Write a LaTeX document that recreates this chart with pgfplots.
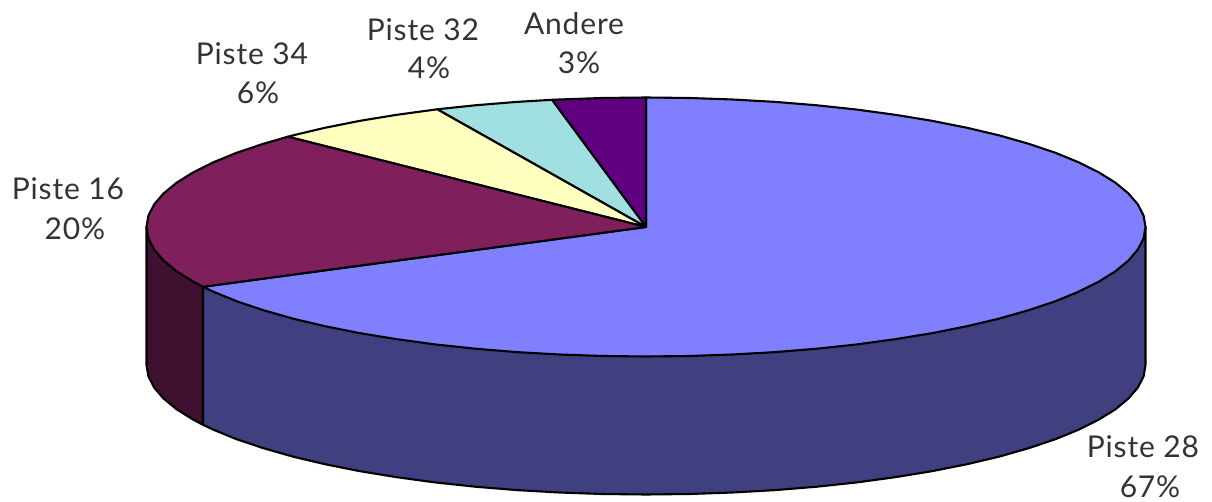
\documentclass[border=0pt]{standalone}
\usepackage{fontspec}
\setmainfont{Lato}[LetterSpace=2.8]
\usepackage{pgfplots}
\pgfplotsset{compat=1.18}
\definecolor{cBlue}{HTML}{8080FF}
\definecolor{cBlueS}{HTML}{404080}
\definecolor{cMar}{HTML}{7F1F5C}
\definecolor{cMarS}{HTML}{401030}
\definecolor{cYel}{HTML}{FFFFC0}
\definecolor{cTeal}{HTML}{A0E0E0}
\definecolor{cPur}{HTML}{600080}
\definecolor{cTxt}{HTML}{333333}
\tikzset{lab/.style={font=\fontsize{30}{36}\selectfont, text=cTxt, align=center, inner sep=0pt, anchor=base}}
\begin{document}
\begin{tikzpicture}
\begin{axis}[
  scale only axis, width=1212pt, height=502pt,
  xmin=0, xmax=1212, ymin=0, ymax=502, y dir=reverse,
  hide axis, clip=false,
  every axis plot/.append style={draw=black, line width=2.1pt, line join=round},
]
\path (axis cs:0,0) rectangle (axis cs:1212,502);
% side faces
\addplot[fill=cMarS] coordinates {(146.5,227)(146.5,365)(148.4,376.3)(154.1,387.5)(163.5,398.5)(176.6,409.3)(193.3,419.7)(203,424.8)(203,286.8)} -- cycle;
\addplot[fill=cBlueS] coordinates {(203,286.8)(203,424.8)(213.4,429.7)(236.8,439.3)(263.4,448.2)(292.8,456.6)(324.9,464.2)(359.5,471.1)(396.2,477.1)(434.9,482.4)(475.2,486.7)(516.7,490.1)(559.3,492.5)(602.5,494)(646,494.5)(689.5,494)(732.7,492.5)(775.3,490.1)(816.8,486.7)(857.1,482.4)(895.8,477.1)(932.5,471.1)(967.1,464.2)(999.2,456.6)(1028.6,448.2)(1055.2,439.3)(1078.6,429.7)(1098.7,419.7)(1115.4,409.3)(1128.5,398.5)(1137.9,387.5)(1143.6,376.3)(1145.5,365)(1145.5,227)} -- cycle;
% top faces
\addplot[fill=cBlue] coordinates {(646,227)(203,286.8)(213.4,291.7)(236.8,301.3)(263.4,310.2)(292.8,318.6)(324.9,326.2)(359.5,333.1)(396.2,339.1)(434.9,344.4)(475.2,348.7)(516.7,352.1)(559.3,354.5)(602.5,356)(646,356.5)(689.5,356)(732.7,354.5)(775.3,352.1)(816.8,348.7)(857.1,344.4)(895.8,339.1)(932.5,333.1)(967.1,326.2)(999.2,318.6)(1028.6,310.2)(1055.2,301.3)(1078.6,291.7)(1098.7,281.7)(1115.4,271.3)(1128.5,260.5)(1137.9,249.5)(1143.6,238.3)(1145.5,227)(1143.6,215.7)(1137.9,204.5)(1128.5,193.5)(1115.4,182.7)(1098.7,172.3)(1078.6,162.3)(1055.2,152.7)(1028.6,143.8)(999.2,135.4)(967.1,127.8)(932.5,120.9)(895.8,114.9)(857.1,109.6)(816.8,105.3)(775.3,101.9)(732.7,99.5)(689.5,98)(646,97.5)} -- cycle;
\addplot[fill=cPur] coordinates {(646,227)(646,97.5)(602.5,98)(559.3,99.5)(552,99.8)} -- cycle;
\addplot[fill=cTeal] coordinates {(646,227)(552,99.8)(516.7,101.9)(475.2,105.3)(437.2,109.3)} -- cycle;
\addplot[fill=cYel] coordinates {(646,227)(437.2,109.3)(396.2,114.9)(359.5,120.9)(324.9,127.8)(292.8,135.4)(287.9,136.7)} -- cycle;
\addplot[fill=cMar] coordinates {(646,227)(287.9,136.7)(263.4,143.8)(236.8,152.7)(213.4,162.3)(193.3,172.3)(176.6,182.7)(163.5,193.5)(154.1,204.5)(148.4,215.7)(146.5,227)(148.4,238.3)(154.1,249.5)(163.5,260.5)(176.6,271.3)(193.3,281.7)(203,286.8)} -- cycle;
% labels
\node[lab] at (axis cs:68,200) {Piste 16};
\node[lab] at (axis cs:75,240) {20\%};
\node[lab] at (axis cs:252,65) {Piste 34};
\node[lab] at (axis cs:258,104) {6\%};
\node[lab] at (axis cs:423,41) {Piste 32};
\node[lab] at (axis cs:429,79) {4\%};
\node[lab] at (axis cs:574,35) {Andere};
\node[lab] at (axis cs:579,74) {3\%};
\node[lab] at (axis cs:1143,457) {Piste 28};
\node[lab] at (axis cs:1150,497) {67\%};
\end{axis}
\end{tikzpicture}
\end{document}
